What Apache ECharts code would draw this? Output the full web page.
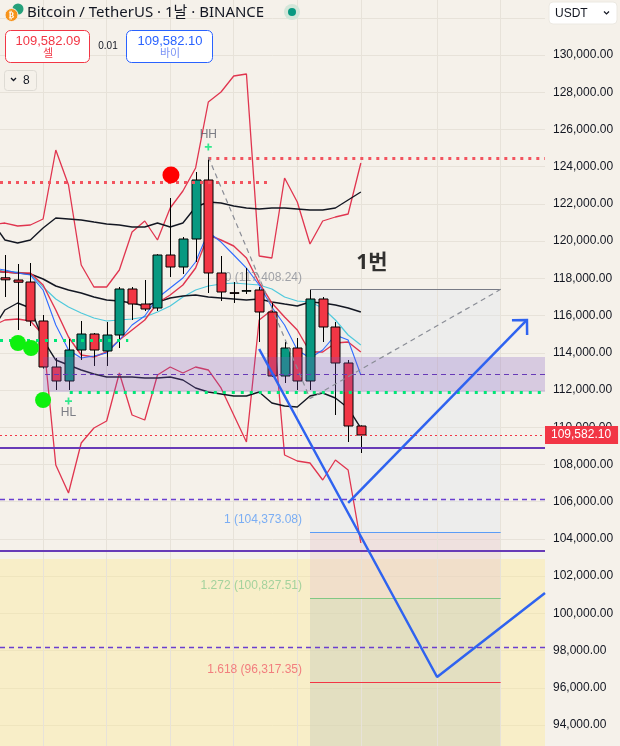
<!DOCTYPE html>
<html><head><meta charset="utf-8">
<script src="https://cdn.jsdelivr.net/npm/echarts@6/dist/echarts.min.js"></script>
<style>html,body{margin:0;padding:0;background:#f5f1ea;}#c{width:620px;height:746px;}</style>
</head><body><div id="c"></div>
<script>
// ---- candles (index 0..28) ----
const candleOpen  = [118030,117911,117803,115708,113236,112484,114149,115009,114096,114955,117427,116621,116406,119254,118609,120113,123284,118287,117230,117320,117373,116191,112752,114257,112484,116890,115385,113451,110066];
const candleClose = [117920,117790,115708,113236,112484,114149,115009,114149,114955,117427,116621,116352,119254,118609,120113,123284,118287,117266,117190,117340,116191,112752,114257,112484,116890,115385,113451,110066,109582];
const candleLow   = [116997,115224,115439,113150,112000,112000,113612,113290,113290,114257,115761,116245,116245,118072,118233,118878,117212,116782,116675,117158,114579,112700,112376,112000,112000,114579,110657,109206,108615];
const candleHigh  = [119254,118770,118824,116030,113719,114740,115708,115063,115654,117534,117534,117911,119300,122316,120221,123713,124519,119200,117803,118555,117534,116675,114579,114794,117373,116997,115654,113612,110100];
// ---- indicator lines (start at index -1) ----
const lineStart = -1;
const bbUpper = [121027,120060,119899,120060,120705,121242,121188,121135,121027,120920,120866,120759,120759,120973,120759,120973,121833,122102,122048,121887,121779,121725,121779,121779,121725,121672,121672,121779,122209,122639];
const bbMid   = [118394,118340,118287,118233,117964,117588,117373,117212,116997,116836,116782,116675,116514,116729,116943,117051,117104,116997,116943,116890,116836,116890,116729,116621,116514,116729,116675,116567,116406,116191];
const bbLower = [115224,116299,116675,116406,114687,113612,113343,113075,112860,112699,112699,112699,112645,112645,112699,112537,112108,111893,111785,111678,111678,111893,111302,111140,111087,111678,111839,111570,111033,109958];
const chanHigh = [120900,120973,120812,120866,121188,124896,123015,118716,117534,117534,118448,120490,121081,120060,121779,122693,123929,127475,128012,128872,128979,119200,119093,123391,122102,119845,121081,121296,121457,124197];
const chanLow  = [115439,115761,115815,115708,114955,107970,106466,109153,109959,110335,112914,110657,110388,112806,113236,112914,113236,113075,112108,110657,109206,115761,116299,108508,108185,108078,107164,108239,107702,103780];
const maRed  = [118448,118340,118287,118287,117642,116299,114848,113881,113773,114042,114687,115224,115761,116675,117104,117642,118555,120328,120060,119738,119093,117750,116675,115923,115224,114042,114042,114525,114579,114042];
const maBlue = [118555,118448,118287,118179,117373,115493,114149,113719,113827,113988,114687,115493,115976,116943,117481,118018,118878,120490,119952,119254,118555,117642,116460,115493,114149,113719,114149,114955,114687,112806];
const maCyan = [118448,118394,118340,118233,117534,116890,116460,116138,115869,115708,115761,115815,115923,116191,116514,116997,117373,117588,117696,117750,117696,117642,117427,116997,116782,116729,116406,115761,114955,114418];
// ---- drawings ----
const trendDown = [[20,114203],[34,96579],[42.49,101093]];
const trendUp = [[27,105929],[41.07,115762]];
const fibPath = [[16,124519],[24,111540],[39,117408.24]];
const fibLevels = [117408.24,104373.08,100827.51,96317.35];
const fibTexts = ['0 (117,408.24)','1 (104,373.08)','1.272 (100,827.51)','1.618 (96,317.35)'];
const zoneTop = 113774, zoneBottom = 111893, zoneMid = 112860;
const purpleSolid = [108884,103350];
const purpleDashed = [106143,98191];
const yellowTop = 102920;
const greenDotHigh = 114687, greenDotLow = 111893;
const redDotA = 123176, redDotB = 124466;
const lastPrice = 109582.10;
const greenBalls = [[1.02,114526],[2.05,114257],[3.0,111463]];
const redBall = [[13.06,123552]];
const gridIdx = [3,8,13,18,23,28,34,39];

const X_MIN=-0.39, X_MAX=42.49;
const FONT='"Liberation Sans", Arial, sans-serif';
const KFONT='"Noto Sans", "Noto Sans CJK KR", sans-serif';

const candleData = candleOpen.map((o,i)=>[i,o,candleClose[i],candleLow[i],candleHigh[i]]);
const toXY = arr => arr.map((v,i)=>[i+lineStart,v]);
function lineSeries(arr,color,w,z){return {type:'line',data:toXY(arr),showSymbol:false,symbol:'none',lineStyle:{color,width:w},z:z||2,silent:true,animation:false};}

const option={
  backgroundColor:'#f5f1ea',
  animation:false,
  grid:{left:0,right:75,top:-19.44,bottom:-16.23,containLabel:false,outerBoundsMode:'none'},
  xAxis:{type:'value',min:X_MIN,max:X_MAX,show:false},
  yAxis:{type:'value',position:'right',min:92000,max:134000,interval:2000,
    axisLine:{show:false},axisTick:{show:false},
    axisLabel:{color:'#131722',fontSize:12,fontFamily:FONT,margin:8,
      formatter:v=>v.toLocaleString('en-US',{minimumFractionDigits:2,maximumFractionDigits:2})},
    splitLine:{lineStyle:{color:'#e7e2d9',width:1}}},
  series:[
    // background fills
    {type:'line',data:[],z:1,silent:true,
      markArea:{silent:true,z:1,data:[
        [{yAxis:yellowTop,itemStyle:{color:'rgba(252,234,150,0.40)'}},{yAxis:92000}],
        [{coord:[24,fibLevels[0]],itemStyle:{color:'rgba(222,231,241,0.32)'}},{coord:[39,92000]}],
        [{coord:[24,fibLevels[1]],itemStyle:{color:'rgba(255,150,140,0.13)'}},{coord:[39,fibLevels[2]]}],
        [{coord:[24,fibLevels[2]],itemStyle:{color:'rgba(160,155,90,0.15)'}},{coord:[39,92000]}]
      ]},
      markLine:{silent:true,z:1,symbol:['none','none'],label:{show:false},
        lineStyle:{color:'#e7e2d9',width:1,type:'solid'},
        data:gridIdx.map(v=>({xAxis:v}))}
    },
    // fib level lines
    {type:'line',data:[],z:2,silent:true,
      markLine:{silent:true,z:2,symbol:['none','none'],label:{show:false},data:[
        [{coord:[24,fibLevels[0]],lineStyle:{color:'#787b86',width:1,type:'solid'}},{coord:[39,fibLevels[0]]}],
        [{coord:[24,fibLevels[1]],lineStyle:{color:'#5b9cf6',width:1,type:'solid'}},{coord:[39,fibLevels[1]]}],
        [{coord:[24,fibLevels[2]],lineStyle:{color:'#81c784',width:1,type:'solid'}},{coord:[39,fibLevels[2]]}],
        [{coord:[24,fibLevels[3]],lineStyle:{color:'#f23645',width:1,type:'solid'}},{coord:[39,fibLevels[3]]}]
      ]}
    },
    // fib labels
    {type:'scatter',z:2,silent:true,symbolSize:0,
      data:fibLevels.map((v,i)=>({value:[24,v],label:{color:['#8a8d96','#5b9cf6','#8fca92','#f0616c'][i]}})),
      label:{show:true,position:'left',distance:8,offset:[0,-12],fontSize:12,fontFamily:FONT,
        formatter:p=>fibTexts[p.dataIndex]}},
    // indicators
    lineSeries(chanHigh,'#e0354f',1.3),
    lineSeries(chanLow,'#e0354f',1.3),
    lineSeries(bbUpper,'#131722',1.4),
    lineSeries(bbLower,'#131722',1.4),
    lineSeries(maCyan,'#4fc9dc',1.2),
    lineSeries(bbMid,'#131722',1.6),
    lineSeries(maRed,'#e0354f',1.4),
    lineSeries(maBlue,'#2f6bff',1.1),
    // candles
    {type:'custom',z:3,silent:true,data:candleData,encode:{x:0,y:[1,2,3,4]},
      renderItem:(params,api)=>{
        const x=api.value(0),o=api.value(1),c=api.value(2),l=api.value(3),h=api.value(4);
        const pO=api.coord([x,o]),pC=api.coord([x,c]),pL=api.coord([x,l]),pH=api.coord([x,h]);
        const cx=Math.round(pO[0])+0.5;
        const w=Math.round(api.size([1,0])[0]*0.72);
        const top=Math.min(pO[1],pC[1]),bot=Math.max(pO[1],pC[1]);
        const bh=Math.max(bot-top,0.6);
        return {type:'group',children:[
          {type:'line',shape:{x1:cx,y1:pH[1],x2:cx,y2:pL[1]},style:{stroke:'#000',lineWidth:1}},
          {type:'rect',shape:{x:cx-w/2,y:top,width:w,height:bh},
            style:{fill:c>=o?'#089981':'#f23645',stroke:'#000',lineWidth:1}}
        ]};
      }},
    // purple zone
    {type:'line',data:[],z:4,silent:true,
      markArea:{silent:true,z:4,itemStyle:{color:'rgba(126,87,194,0.25)'},data:[
        [{coord:[3,zoneTop]},{coord:[X_MAX,zoneBottom]}]
      ]}},
    // horizontal lines
    {type:'line',data:[],z:5,silent:true,
      markLine:{silent:true,z:5,symbol:['none','none'],label:{show:false},data:[
        [{coord:[3.15,zoneMid],lineStyle:{color:'#673ab7',width:1.2,type:[5,4]}},{coord:[X_MAX,zoneMid]}],
        {yAxis:purpleSolid[0],lineStyle:{color:'#673ab7',width:2,type:'solid'}},
        {yAxis:purpleSolid[1],lineStyle:{color:'#673ab7',width:2,type:'solid'}},
        {yAxis:purpleDashed[0],lineStyle:{color:'#6a3fd0',width:1.3,type:[5,4]}},
        {yAxis:purpleDashed[1],lineStyle:{color:'#6a3fd0',width:1.3,type:[5,4]}},
        [{coord:[X_MIN,greenDotHigh],lineStyle:{color:'#00e676',width:3,type:[3,6]}},{coord:[9.7,greenDotHigh]}],
        [{coord:[5.1,greenDotLow],lineStyle:{color:'#00e676',width:3,type:[3,6]}},{coord:[X_MAX,greenDotLow]}],
        [{coord:[X_MIN,redDotA],lineStyle:{color:'#f2545f',width:3,type:[3,5]}},{coord:[20.85,redDotA]}],
        [{coord:[16,redDotB],lineStyle:{color:'#f2545f',width:3,type:[3,5]}},{coord:[X_MAX,redDotB]}],
        {yAxis:lastPrice,lineStyle:{color:'#f23645',width:1.2,type:[2,3]},
          label:{show:true,position:'end',distance:0,formatter:'109,582.10',color:'#fff',
            backgroundColor:'#f23645',padding:[3,7,3,6],fontSize:12,fontFamily:FONT}}
      ]}},
    // fib dashed path
    {type:'line',z:6,silent:true,data:fibPath,showSymbol:false,symbol:'none',
      lineStyle:{color:'#8a8d96',width:1.2,type:[5,4]}},
    // trend lines
    {type:'line',z:6,silent:true,data:trendDown,showSymbol:false,symbol:'none',
      lineStyle:{color:'#2f63f0',width:2.5}},
    {type:'line',z:6,silent:true,data:trendUp,showSymbol:false,symbol:'none',
      lineStyle:{color:'#2f63f0',width:2.5}},
    {type:'custom',z:6,silent:true,data:[[trendUp[0][0],trendUp[0][1],trendUp[1][0],trendUp[1][1]]],
      renderItem:(params,api)=>{
        const a=api.coord([api.value(0),api.value(1)]),b=api.coord([api.value(2),api.value(3)]);
        const ang=Math.atan2(b[1]-a[1],b[0]-a[0]);const L=15,s=Math.PI/4;
        const p1=[b[0]-L*Math.cos(ang-s),b[1]-L*Math.sin(ang-s)];
        const p2=[b[0]-L*Math.cos(ang+s),b[1]-L*Math.sin(ang+s)];
        return {type:'polyline',shape:{points:[p1,b,p2]},style:{stroke:'#2f63f0',lineWidth:2.5,fill:null}};
      }},
    // balls
    {type:'scatter',z:7,silent:true,data:greenBalls,symbolSize:16,itemStyle:{color:'#0ef00e',opacity:1}},
    {type:'scatter',z:7,silent:true,data:redBall,symbolSize:17,itemStyle:{color:'#ff0000',opacity:1}},
    // plus markers
    {type:'scatter',z:7,silent:true,data:[[16,125057],[5,111409]],symbol:'path://M3,0h2v3h3v2h-3v3h-2v-3h-3v-2h3z',symbolSize:7,itemStyle:{color:'#00e676'}},
    // texts
    {type:'scatter',z:7,silent:true,symbolSize:0,
      data:[{value:[16,125702],name:'HH'},{value:[5,110764],name:'HL'}],
      label:{show:true,position:'inside',formatter:'{b}',color:'#5d606b',fontSize:12,fontFamily:FONT}},
    {type:'scatter',z:7,silent:true,symbolSize:0,
      data:[{value:[28.87,118824],name:'1번'}],
      label:{show:true,position:'inside',formatter:'{b}',color:'#000',fontSize:21,fontWeight:'bold',fontFamily:KFONT}}
  ],
  graphic:[
    {type:'circle',z:100,shape:{cx:18,cy:9,r:5.5},style:{fill:'#26a17b'}},
    {type:'circle',z:100,shape:{cx:11.5,cy:15,r:6.5},style:{fill:'#f7931a',stroke:'#f5f1ea',lineWidth:1}},
    {type:'text',z:101,style:{x:11.5,y:15.5,text:'₿',fill:'#fff',font:'bold 8px "DejaVu Sans"',align:'center',verticalAlign:'middle'}},
    {type:'text',z:100,style:{x:27,y:13,text:'Bitcoin / TetherUS · 1날 · BINANCE',fill:'#131722',font:'15px '+KFONT,verticalAlign:'middle'}},
    {type:'circle',z:100,shape:{cx:292,cy:12,r:8},style:{fill:'#d3e6d9'}},
    {type:'circle',z:101,shape:{cx:292,cy:12,r:4},style:{fill:'#089981'}},
    {type:'rect',z:100,shape:{x:5.5,y:30.5,width:84,height:32,r:5},style:{fill:'#fff',stroke:'#f23645',lineWidth:1}},
    {type:'text',z:101,style:{x:48,y:41,text:'109,582.09',fill:'#f23645',font:'13px '+FONT,align:'center',verticalAlign:'middle'}},
    {type:'text',z:101,style:{x:48,y:54,text:'셀',fill:'#f23645',font:'11px '+KFONT,align:'center',verticalAlign:'middle'}},
    {type:'text',z:100,style:{x:108,y:46,text:'0.01',fill:'#131722',font:'10px '+FONT,align:'center',verticalAlign:'middle'}},
    {type:'rect',z:100,shape:{x:126.5,y:30.5,width:86,height:32,r:5},style:{fill:'#fff',stroke:'#2962ff',lineWidth:1}},
    {type:'text',z:101,style:{x:170,y:41,text:'109,582.10',fill:'#2962ff',font:'13px '+FONT,align:'center',verticalAlign:'middle'}},
    {type:'text',z:101,style:{x:170,y:54,text:'바이',fill:'#7b93f5',font:'11px '+KFONT,align:'center',verticalAlign:'middle'}},
    {type:'rect',z:100,shape:{x:4.5,y:70.5,width:32,height:20,r:3},style:{fill:'#f5f1ea',stroke:'#dedbd4',lineWidth:1}},
    {type:'polyline',z:101,shape:{points:[[11,78],[13.5,80.5],[16,78]]},style:{stroke:'#131722',lineWidth:1.3,fill:null}},
    {type:'text',z:101,style:{x:23,y:80.5,text:'8',fill:'#131722',font:'12px '+FONT,verticalAlign:'middle'}},
    {type:'rect',z:100,shape:{x:549,y:2,width:68,height:22,r:4},style:{fill:'#fff',stroke:'#ece9e2',lineWidth:1}},
    {type:'text',z:101,style:{x:555,y:13.5,text:'USDT',fill:'#131722',font:'12px '+FONT,verticalAlign:'middle'}},
    {type:'polyline',z:101,shape:{points:[[604,11.5],[606.5,14],[609,11.5]]},style:{stroke:'#131722',lineWidth:1.2,fill:null}}
  ]
};
const chart=echarts.init(document.getElementById('c'),null,{renderer:'canvas'});
chart.setOption(option);
</script>
</body></html>
